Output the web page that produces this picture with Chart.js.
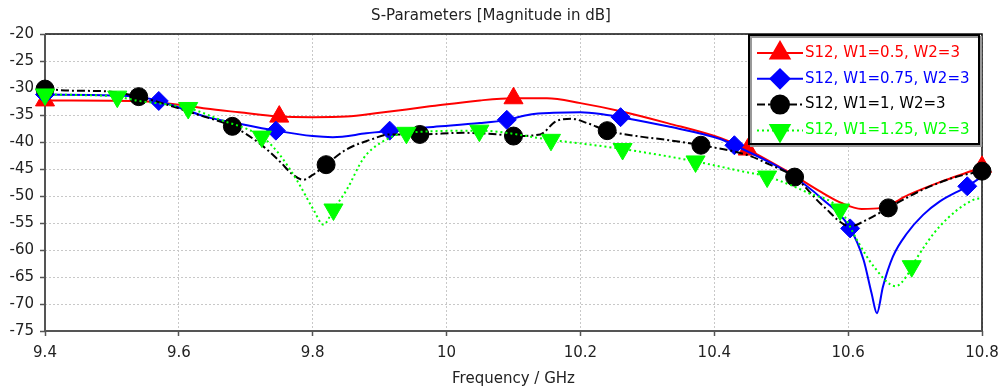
<!DOCTYPE html>
<html>
<head>
<meta charset="utf-8">
<script src="https://cdn.jsdelivr.net/npm/chart.js@4.4.0/dist/chart.umd.min.js"></script>
<style>
  html, body { margin: 0; padding: 0; background: #fff; }
  #wrap { width: 1002px; height: 392px; position: relative; }
</style>
</head>
<body>
<div id="wrap"><canvas id="sparamChart"></canvas></div>
<script>
// S12 magnitude traces, frequency in GHz, magnitude in dB
const seriesLabels = ['S12, W1=0.5, W2=3', 'S12, W1=0.75, W2=3', 'S12, W1=1, W2=3', 'S12, W1=1.25, W2=3'];
const freqTicks = [9.4, 9.6, 9.8, 10, 10.2, 10.4, 10.6, 10.8];
const dbTicks = [-75, -70, -65, -60, -55, -50, -45, -40, -35, -30, -25, -20];

// W1 = 0.5
const redF  = [9.40, 9.44, 9.54, 9.60, 9.64, 9.69, 9.75, 9.80, 9.85, 9.90, 9.975, 10.05, 10.10, 10.15, 10.20, 10.26, 10.33, 10.41, 10.45, 10.51, 10.56, 10.59, 10.62, 10.65, 10.69, 10.74, 10.79, 10.80];
const redDb = [-32.3, -32.3, -32.4, -33.1, -33.8, -34.5, -35.3, -35.4, -35.3, -34.6, -33.4, -32.3, -31.9, -31.9, -32.8, -34.3, -36.5, -39.3, -41.4, -45.5, -49.3, -51.3, -52.4, -52.2, -49.8, -47.3, -45.1, -44.6];
const redMarkF  = [9.40, 9.75, 10.10, 10.45, 10.80];
const redMarkDb = [-32.3, -35.3, -31.9, -41.4, -44.6];

// W1 = 0.75
const blueF  = [9.40, 9.47, 9.54, 9.57, 9.60, 9.64, 9.69, 9.745, 9.80, 9.83, 9.88, 9.915, 9.98, 10.05, 10.09, 10.125, 10.16, 10.20, 10.235, 10.26, 10.33, 10.41, 10.43, 10.48, 10.51, 10.56, 10.603, 10.623, 10.635, 10.643, 10.652, 10.667, 10.688, 10.712, 10.737, 10.778, 10.80];
const blueDb = [-31.2, -31.3, -31.6, -32.4, -33.6, -35.3, -36.6, -37.9, -38.9, -39.1, -38.4, -37.9, -37.2, -36.5, -35.9, -34.9, -34.6, -34.5, -34.9, -35.4, -37.1, -39.5, -40.6, -43.6, -45.7, -50.4, -56.0, -61.8, -68.0, -71.7, -66.8, -61.2, -56.9, -53.5, -51.0, -48.2, -46.4];
const blueMarkF  = [9.40, 9.57, 9.745, 9.915, 10.09, 10.26, 10.43, 10.603, 10.778];
const blueMarkDb = [-31.2, -32.4, -37.9, -37.9, -35.9, -35.4, -40.6, -56.0, -48.2];

// W1 = 1
const blackF  = [9.40, 9.44, 9.49, 9.54, 9.59, 9.63, 9.68, 9.72, 9.75, 9.77, 9.786, 9.80, 9.82, 9.85, 9.886, 9.915, 9.96, 10.025, 10.076, 10.10, 10.14, 10.163, 10.187, 10.21, 10.24, 10.284, 10.334, 10.38, 10.449, 10.483, 10.52, 10.563, 10.603, 10.628, 10.66, 10.712, 10.763, 10.80];
const blackDb = [-30.2, -30.5, -30.6, -31.6, -33.4, -35.0, -37.1, -40.2, -43.5, -46.0, -47.0, -46.1, -44.2, -41.4, -39.6, -38.6, -38.6, -38.3, -38.6, -38.9, -38.6, -36.2, -35.7, -36.5, -37.9, -38.9, -39.7, -40.6, -42.4, -44.2, -46.5, -51.9, -55.6, -54.4, -52.2, -48.8, -46.4, -45.4];
const blackMarkF  = [9.40, 9.54, 9.68, 9.82, 9.96, 10.10, 10.24, 10.38, 10.52, 10.66, 10.80];
const blackMarkDb = [-30.2, -31.6, -37.1, -44.2, -38.6, -38.9, -37.9, -40.6, -46.5, -52.2, -45.4];

// W1 = 1.25
const greenF  = [9.40, 9.45, 9.508, 9.54, 9.58, 9.614, 9.66, 9.724, 9.74, 9.751, 9.776, 9.801, 9.816, 9.831, 9.851, 9.876, 9.901, 9.94, 10.049, 10.156, 10.263, 10.372, 10.44, 10.479, 10.54, 10.588, 10.613, 10.638, 10.671, 10.687, 10.70, 10.737, 10.787, 10.80];
const greenDb = [-31.2, -31.3, -31.6, -32.4, -33.0, -33.7, -35.8, -39.0, -40.8, -42.4, -47.0, -52.5, -55.3, -52.5, -48.8, -43.0, -40.2, -38.3, -37.9, -39.6, -41.3, -43.6, -45.4, -46.4, -49.4, -52.5, -58.1, -63.0, -66.7, -64.9, -62.0, -55.6, -50.7, -50.4];
const greenMarkF  = [9.40, 9.508, 9.614, 9.724, 9.831, 9.94, 10.049, 10.156, 10.263, 10.372, 10.479, 10.588, 10.695];
const greenMarkDb = [-31.2, -31.6, -33.7, -39.0, -52.5, -38.3, -37.9, -39.6, -41.3, -43.6, -46.4, -52.5, -63.0];

const FONT = "'DejaVu Sans', Verdana, sans-serif";
const toXY = (fs, ds) => fs.map((f, i) => ({ x: f, y: ds[i] }));

// line look + marker look for each trace, same order as seriesLabels
const styles = [
  { color: '#ff0000', dash: [],           point: 'triangle', rot: 0,   r: 11 },
  { color: '#0000ff', dash: [],           point: 'rectRot',  rot: 0,   r: 9.5 },
  { color: '#000000', dash: [8, 3, 2, 3], point: 'circle',   rot: 0,   r: 9 },
  { color: '#00ff00', dash: [2, 3],       point: 'triangle', rot: 180, r: 11 }
];
const traces = [
  [redF, redDb, redMarkF, redMarkDb],
  [blueF, blueDb, blueMarkF, blueMarkDb],
  [blackF, blackDb, blackMarkF, blackMarkDb],
  [greenF, greenDb, greenMarkF, greenMarkDb]
];

const datasets = [];
traces.forEach((t, i) => {
  const s = styles[i];
  const base = (3 - i) * 2; // later traces sit on top
  datasets.push({
    label: seriesLabels[i],
    data: toXY(t[0], t[1]),
    borderColor: s.color,
    borderWidth: 2,
    borderDash: s.dash,
    pointRadius: 0,
    cubicInterpolationMode: 'monotone',
    fill: false,
    order: base + 1
  });
  datasets.push({
    label: seriesLabels[i] + ' markers',
    data: toXY(t[2], t[3]),
    showLine: false,
    pointStyle: s.point,
    pointRotation: s.rot,
    pointRadius: s.r,
    pointBackgroundColor: s.color,
    pointBorderColor: s.color,
    pointBorderWidth: 1,
    clip: false,
    order: base
  });
});

// plot frame: dark left/bottom axis, thin black top/right
const plotFrame = {
  id: 'plotFrame',
  beforeDatasetsDraw(chart) {
    const { ctx, chartArea: a } = chart;
    ctx.save();
    ctx.strokeStyle = '#111';
    ctx.lineWidth = 1.5;
    ctx.beginPath();
    ctx.moveTo(a.left, a.top); ctx.lineTo(a.right, a.top); ctx.lineTo(a.right, a.bottom);
    ctx.stroke();
    ctx.strokeStyle = '#555';
    ctx.lineWidth = 2;
    ctx.beginPath();
    ctx.moveTo(a.left, a.top); ctx.lineTo(a.left, a.bottom); ctx.lineTo(a.right, a.bottom);
    ctx.stroke();
    ctx.restore();
  }
};

// boxed legend in the upper right corner with line + marker samples
const legendBox = {
  id: 'legendBox',
  afterDraw(chart) {
    const { ctx, chartArea: a } = chart;
    const w = 230, h = 109;
    const x0 = a.right - w - 3, y0 = a.top + 1;
    ctx.save();
    ctx.fillStyle = '#fff';
    ctx.fillRect(x0, y0, w, h);
    ctx.strokeStyle = '#999';
    ctx.lineWidth = 2;
    ctx.strokeRect(x0 + 2, y0 + 2, w, h);
    ctx.strokeStyle = '#000';
    ctx.lineWidth = 2;
    ctx.strokeRect(x0, y0, w, h);
    ctx.font = '15px ' + FONT;
    ctx.textBaseline = 'middle';
    styles.forEach((s, i) => {
      const y = y0 + 18 + i * 25.8;
      ctx.strokeStyle = s.color;
      ctx.lineWidth = 2;
      ctx.setLineDash(s.dash);
      ctx.beginPath();
      ctx.moveTo(x0 + 8, y); ctx.lineTo(x0 + 54, y);
      ctx.stroke();
      ctx.setLineDash([]);
      ctx.fillStyle = s.color;
      Chart.helpers.drawPoint(ctx, { pointStyle: s.point, rotation: s.rot, radius: s.r, borderWidth: 1 }, x0 + 31, y);
      ctx.fillStyle = s.color;
      ctx.fillText(seriesLabels[i], x0 + 56, y);
    });
    ctx.restore();
  }
};

const gridCommon = {
  color: '#c8c8c8',
  lineWidth: 1,
  drawTicks: true,
  tickLength: 5,
  tickColor: '#555',
  tickWidth: 1.5
};

new Chart(document.getElementById('sparamChart'), {
  type: 'line',
  data: { datasets },
  options: {
    responsive: true,
    maintainAspectRatio: false,
    animation: false,
    events: [],
    layout: { padding: { left: 0, right: 20, top: 0, bottom: 0 } },
    plugins: {
      legend: { display: false },
      tooltip: { enabled: false },
      title: {
        display: true,
        text: 'S-Parameters [Magnitude in dB]',
        color: '#222',
        font: { family: FONT, size: 15, weight: 'normal' },
        padding: { top: 7, bottom: 9 }
      }
    },
    scales: {
      x: {
        type: 'linear',
        min: 9.4,
        max: 10.8,
        afterBuildTicks: s => { s.ticks = freqTicks.map(v => ({ value: v })); },
        // fixed axis band; end labels may overhang into the page margin
        afterFit: s => { s.height = 61; s.paddingLeft = 0; s.paddingRight = 0; },
        grid: gridCommon,
        border: { display: false, dash: [2, 2] },
        ticks: {
          color: '#222',
          font: { family: FONT, size: 15 },
          padding: 8,
          maxRotation: 0,
          callback: v => String(v)
        },
        title: {
          display: true,
          text: 'Frequency / GHz',
          color: '#222',
          font: { family: FONT, size: 15 },
          padding: { top: 0, bottom: 4 }
        }
      },
      y: {
        type: 'linear',
        min: -75,
        max: -20,
        afterBuildTicks: s => { s.ticks = dbTicks.map(v => ({ value: v })); },
        afterFit: s => { s.width = 45; s.paddingTop = 0; s.paddingBottom = 0; },
        grid: gridCommon,
        border: { display: false, dash: [2, 2] },
        ticks: {
          color: '#222',
          font: { family: FONT, size: 15 },
          padding: 6
        }
      }
    }
  },
  plugins: [plotFrame, legendBox]
});
</script>
</body>
</html>
